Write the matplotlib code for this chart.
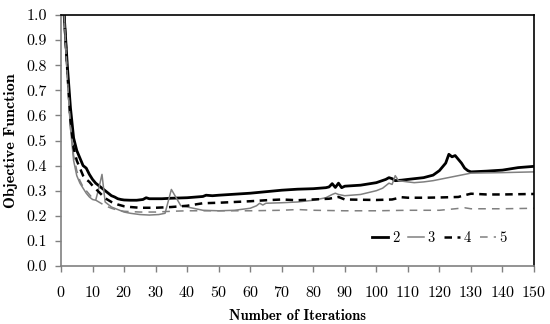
import numpy as np
from matplotlib import pyplot as plt

plt.rcParams['font.family'] = ['cmr10', 'DejaVu Serif']
plt.rcParams['axes.unicode_minus'] = False
plt.rcParams['axes.formatter.use_mathtext'] = True

# serie 2 (nera spessa)
it2 = [1, 2, 3, 4, 5, 6, 7, 8, 9, 10, 11, 12, 13, 14, 15, 16, 17, 18, 19, 20,
       22, 24, 26, 27, 28, 30, 32, 35, 40, 45, 46, 48, 50, 55, 60, 65, 70, 75,
       80, 84, 85, 86, 87, 88, 89, 90, 95, 100, 103, 104, 105, 106, 108, 110,
       115, 118, 120, 122, 123, 124, 125, 126, 127, 128, 129, 130, 135, 140,
       145, 150]
f2 = [1.0, 0.80, 0.63, 0.51, 0.46, 0.43, 0.40, 0.39, 0.365, 0.345, 0.33, 0.32,
      0.31, 0.30, 0.29, 0.28, 0.275, 0.268, 0.265, 0.263, 0.262, 0.262, 0.265,
      0.272, 0.268, 0.268, 0.268, 0.270, 0.272, 0.277, 0.282, 0.280, 0.282,
      0.286, 0.290, 0.296, 0.302, 0.306, 0.308, 0.312, 0.315, 0.328, 0.313,
      0.330, 0.312, 0.318, 0.322, 0.332, 0.345, 0.352, 0.348, 0.340, 0.342,
      0.345, 0.352, 0.362, 0.38, 0.41, 0.445, 0.435, 0.44, 0.425, 0.41, 0.39,
      0.38, 0.375, 0.378, 0.382, 0.392, 0.397]

# serie 3 (grigia sottile)
it3 = [1, 2, 3, 4, 5, 6, 7, 8, 9, 10, 11, 12, 13, 14, 16, 18, 20, 22, 25, 28,
       31, 33, 35, 38, 40, 42, 45, 50, 55, 60, 62, 63, 64, 65, 70, 75, 80, 84,
       86, 87, 88, 90, 95, 100, 102, 103, 104, 105, 106, 107, 110, 112, 115,
       118, 122, 126, 130, 140, 150]
f3 = [1.0, 0.75, 0.55, 0.42, 0.36, 0.33, 0.31, 0.29, 0.275, 0.265, 0.262, 0.31,
      0.365, 0.255, 0.235, 0.225, 0.215, 0.21, 0.205, 0.203, 0.205, 0.21,
      0.305, 0.24, 0.235, 0.23, 0.222, 0.22, 0.222, 0.23, 0.24, 0.25, 0.243,
      0.25, 0.252, 0.255, 0.262, 0.272, 0.285, 0.29, 0.285, 0.28, 0.285, 0.30,
      0.31, 0.32, 0.33, 0.325, 0.36, 0.34, 0.335, 0.332, 0.335, 0.34, 0.35,
      0.36, 0.37, 0.372, 0.375]

# serie 4 (nera tratteggiata)
it4 = [1, 2, 3, 4, 5, 6, 7, 8, 9, 10, 12, 14, 16, 18, 20, 22, 25, 30, 35, 40,
       45, 50, 55, 60, 65, 70, 75, 80, 85, 88, 90, 95, 100, 105, 108, 110, 115,
       120, 126, 128, 130, 135, 140, 150]
f4 = [1.0, 0.78, 0.58, 0.47, 0.42, 0.39, 0.36, 0.345, 0.335, 0.32, 0.295, 0.27,
      0.255, 0.245, 0.238, 0.235, 0.232, 0.232, 0.235, 0.24, 0.25, 0.252,
      0.255, 0.258, 0.262, 0.265, 0.262, 0.265, 0.268, 0.275, 0.265, 0.264,
      0.263, 0.265, 0.274, 0.272, 0.272, 0.273, 0.275, 0.282, 0.288, 0.285,
      0.285, 0.287]

# serie 5 (grigia tratteggiata)
it5 = [1, 2, 3, 4, 5, 6, 7, 8, 9, 10, 12, 14, 16, 18, 20, 25, 30, 35, 40, 50,
       60, 70, 75, 80, 90, 100, 110, 120, 125, 128, 130, 140, 150]
f5 = [1.0, 0.76, 0.55, 0.44, 0.38, 0.34, 0.315, 0.30, 0.285, 0.27, 0.255, 0.24,
      0.23, 0.222, 0.218, 0.215, 0.215, 0.218, 0.22, 0.22, 0.22, 0.222, 0.225,
      0.222, 0.22, 0.22, 0.222, 0.222, 0.228, 0.232, 0.228, 0.228, 0.23]

grigio = '#808080'

fig = plt.figure(figsize=(5.5, 3.24), dpi=100)
ax = fig.add_axes([61/550, 1 - 266/324, 473/550, 251/324])

ax.plot(it2, f2, color='black', lw=2.0, label='2')
ax.plot(it3, f3, color=grigio, lw=1.1, label='3')
ax.plot(it4, f4, color='black', lw=1.8, ls=(0, (3, 2.2)), label='4')
ax.plot(it5, f5, color=grigio, lw=1.1, ls=(0, (5, 4)), label='5')

ax.set_xlim(0, 150)
ax.set_ylim(0, 1.0)
ax.set_xticks(np.arange(0, 151, 10))
ax.set_yticks(np.arange(0, 1.01, 0.1))
ax.set_yticklabels([f'{v:.1f}' for v in np.arange(0, 1.01, 0.1)])

for s in ['left', 'bottom']:
    ax.spines[s].set_color(grigio)
    ax.spines[s].set_linewidth(1.2)
for s in ['top', 'right']:
    ax.spines[s].set_color('black')
    ax.spines[s].set_linewidth(1.2)
ax.tick_params(axis='both', direction='out', length=4, width=1, color=grigio,
               labelsize=11.5, pad=6)
ax.tick_params(axis='x', pad=10)

ax.set_xlabel('Number of Iterations', fontfamily='cmb10', fontsize=10.5, labelpad=6)
ax.set_ylabel('Objective Function', fontfamily='cmb10', fontsize=11.5, labelpad=6)

ax.legend(loc='lower right', bbox_to_anchor=(0.97, 0.03), ncol=4, frameon=False,
          handlelength=1.1, handletextpad=0.25, columnspacing=0.6, fontsize=10.5)

fig.savefig('out.png', dpi=100)
